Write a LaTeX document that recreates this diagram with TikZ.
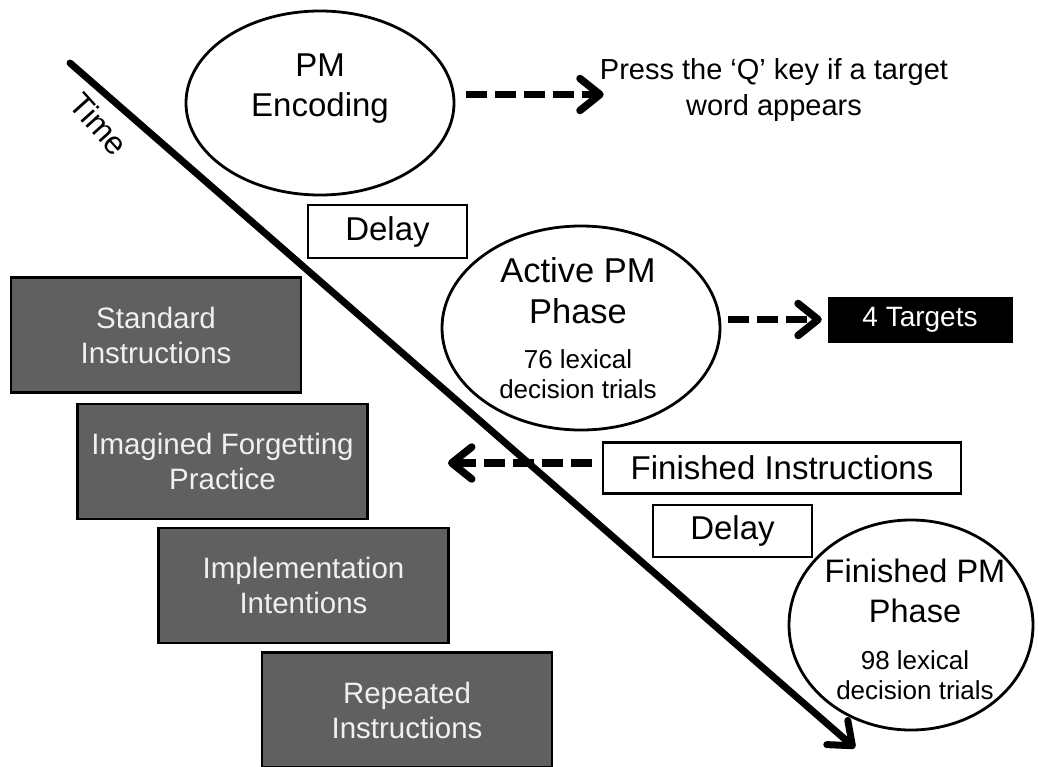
\documentclass[tikz,border=0pt]{standalone}
\usepackage{fontspec}
\setmainfont{Liberation Sans}
\usetikzlibrary{arrows.meta,shapes.geometric}
\definecolor{condgray}{RGB}{96,96,96}
\newcommand\phasetitle[1]{{\fontsize{34.5}{40}\selectfont #1}}
\newcommand\fintitle[1]{{\fontsize{32.5}{40}\selectfont #1}}
\tikzset{
  chevron/.tip={Straight Barb[length=20pt,width=32pt,round]},
  phase/.style={draw, ellipse, line width=2.8pt, fill=white, inner sep=0pt},
  phasetext/.style={align=center, inner sep=0pt, font=\fontsize{26}{30}\selectfont},
  plainbox/.style={draw, line width=2.6pt, fill=white, inner sep=0pt, font=\fontsize{33}{38}\selectfont},
  condbox/.style={draw=black, line width=2.8pt, fill=condgray, text=white!94!black, inner sep=0pt,
    align=center, minimum width=290, minimum height=115, font=\fontsize{29.5}{35}\selectfont},
  dasharrow/.style={line width=7.5pt, dash pattern=on 21pt off 8pt, -chevron},
}
\begin{document}
\begin{tikzpicture}[x=1pt,y=-1pt]
\useasboundingbox (0,0) rectangle (1038,766);
% time axis
\coordinate (t0) at (70,63);
\coordinate (t1) at (855,748);
\draw[line width=7pt, line cap=round, -chevron] (t0) -- (t1);
\node[rotate=-48, inner sep=0pt, font=\fontsize{32}{36}\selectfont] (time) at (99,124) {Time};

% phases
\node[phase, minimum width=268, minimum height=184] (enc) at (320,103) {};
\node[align=center, inner sep=0pt, font=\fontsize{33}{40}\selectfont] (enctxt) at (320,89) {PM\\Encoding};
\node[phase, minimum width=278, minimum height=204] (active) at (581,328) {};
\node[phasetext] (activetxt) at (578,328) {\phasetitle{Active PM}\\[11pt]\phasetitle{Phase}\\[15pt]76 lexical\\decision trials};
\node[phase, minimum width=244, minimum height=210] (finished) at (911,625) {};
\node[phasetext] (finishedtxt) at (915,629) {\fintitle{Finished PM}\\[10pt]\fintitle{Phase}\\[17pt]98 lexical\\decision trials};

% boxes on the right
\node[align=center, inner sep=0pt, font=\fontsize{29}{36}\selectfont] (press) at (774,89.5) {Press the ‘Q’ key if a target\\word appears};
\node[plainbox, minimum width=159, minimum height=53] (delay1) at (387.5,231.5) {Delay};
\node[draw, fill=black, text=white, inner sep=0pt, minimum width=184, minimum height=45,
  font=\fontsize{28}{34}\selectfont] (targets) at (920,319.5) {4 Targets};
\node[plainbox, minimum width=358, minimum height=51] (fininst) at (782,468) {Finished Instructions};
\node[plainbox, minimum width=159, minimum height=52] (delay2) at (732.5,531) {Delay};

% conditions
\foreach \i/\cx/\cy/\txt in {1/156/335/{Standard\\Instructions},
    2/222.5/461.5/{Imagined Forgetting\\Practice},
    3/303.5/585.5/{Implementation\\Intentions},
    4/407/710/{Repeated\\Instructions}}
  \node[condbox] (cond\i) at (\cx,\cy) {\txt};

% dashed arrows
\coordinate (encarrow) at ([xshift=4pt,yshift=-5pt]press.west);
\draw[dasharrow, shorten <=11pt] (enc.east |- encarrow) -- (encarrow);
\draw[dasharrow, shorten <=7pt, shorten >=6pt] (active.east |- targets.west) -- (targets.west);
\coordinate (back) at (448,463);
\draw[dasharrow, shorten <=10pt] (back -| fininst.west) -- (back);
\end{tikzpicture}
\end{document}
